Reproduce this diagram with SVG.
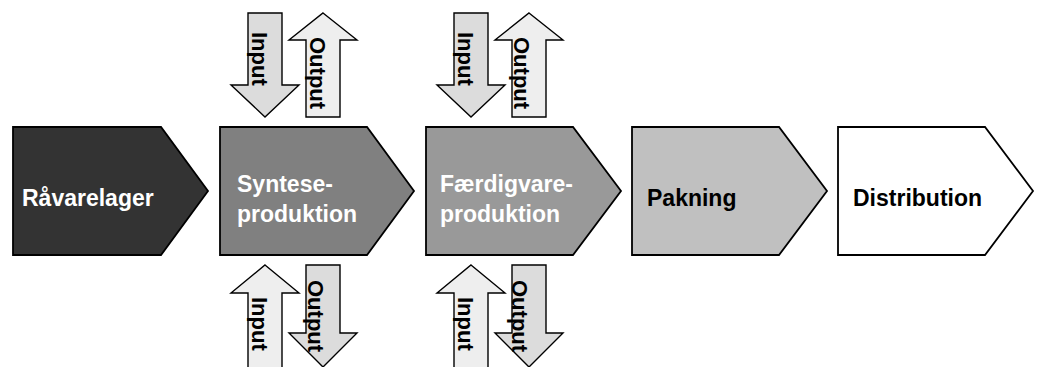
<svg xmlns="http://www.w3.org/2000/svg" width="1038" height="367" viewBox="0 0 1038 367">
<style>
.node{stroke:#000;stroke-width:1.8;stroke-linejoin:miter}
.lbl{font-family:"Liberation Sans",Arial,sans-serif;font-weight:bold;font-size:23px}
.w{fill:#fff}
.k{fill:#000}
.dn{fill:#dcdcdc;stroke:#000;stroke-width:1.4}
.up{fill:#eeeeee;stroke:#000;stroke-width:1.4}
.at{font-family:"Liberation Sans",Arial,sans-serif;font-weight:bold;font-size:22px;fill:#000}
</style>
<rect width="1038" height="367" fill="#fff"/>
<g id="connectors"></g>
<g id="n-raavarelager">
<path class="node" fill="#333333" d="M13,127 H161 L208,191 L161,255 H13 Z"/>
<text class="lbl w" x="22" y="206">Råvarelager</text>
</g>
<g id="n-synteseproduktion">
<path class="node" fill="#808080" d="M220,127 H367 L414,191 L367,255 H220 Z"/>
<text class="lbl w" x="237" y="192">Syntese-</text>
<text class="lbl w" x="237" y="222">produktion</text>
</g>
<g id="n-faerdigvareproduktion">
<path class="node" fill="#999999" d="M426,127 H573 L621,191 L573,255 H426 Z"/>
<text class="lbl w" x="440" y="192">Færdigvare-</text>
<text class="lbl w" x="440" y="222">produktion</text>
</g>
<g id="n-pakning">
<path class="node" fill="#c0c0c0" d="M632,127 H779 L827,191 L779,255 H632 Z"/>
<text class="lbl k" x="647" y="206">Pakning</text>
</g>
<g id="n-distribution">
<path class="node" fill="#ffffff" d="M838,127 H985 L1033,191 L985,255 H838 Z"/>
<text class="lbl k" x="853" y="206">Distribution</text>
</g>
<g id="io-syntese">
<g id="syn-top-input">
<path class="dn" d="M248,13 H282 V85 H299 L265,117 L231,85 H248 Z"/>
<text class="at" transform="translate(252,32) rotate(90)">Input</text>
</g>
<g id="syn-top-output">
<path class="up" d="M323,13 L357,40 H340 V117 H306 V40 H289 Z"/>
<text class="at" transform="translate(310,37) rotate(90)">Output</text>
</g>
<g id="syn-bot-input">
<path class="up" d="M265,265 L299,293 H282 V375 H248 V293 H231 Z"/>
<text class="at" transform="translate(252,297) rotate(90)">Input</text>
</g>
<g id="syn-bot-output">
<path class="dn" d="M306,265 H340 V333 H357 L323,367 L289,333 H306 Z"/>
<text class="at" transform="translate(308,280) rotate(90)">Output</text>
</g>
</g>
<g id="io-faerdigvare" transform="translate(206,0)">
<g id="fv-top-input">
<path class="dn" d="M248,13 H282 V85 H299 L265,117 L231,85 H248 Z"/>
<text class="at" transform="translate(252,32) rotate(90)">Input</text>
</g>
<g id="fv-top-output">
<path class="up" d="M323,13 L357,40 H340 V117 H306 V40 H289 Z"/>
<text class="at" transform="translate(308,37) rotate(90)">Output</text>
</g>
<g id="fv-bot-input">
<path class="up" d="M265,265 L299,293 H282 V375 H248 V293 H231 Z"/>
<text class="at" transform="translate(252,297) rotate(90)">Input</text>
</g>
<g id="fv-bot-output">
<path class="dn" d="M306,265 H340 V333 H357 L323,367 L289,333 H306 Z"/>
<text class="at" transform="translate(306,280) rotate(90)">Output</text>
</g>
</g>
</svg>
